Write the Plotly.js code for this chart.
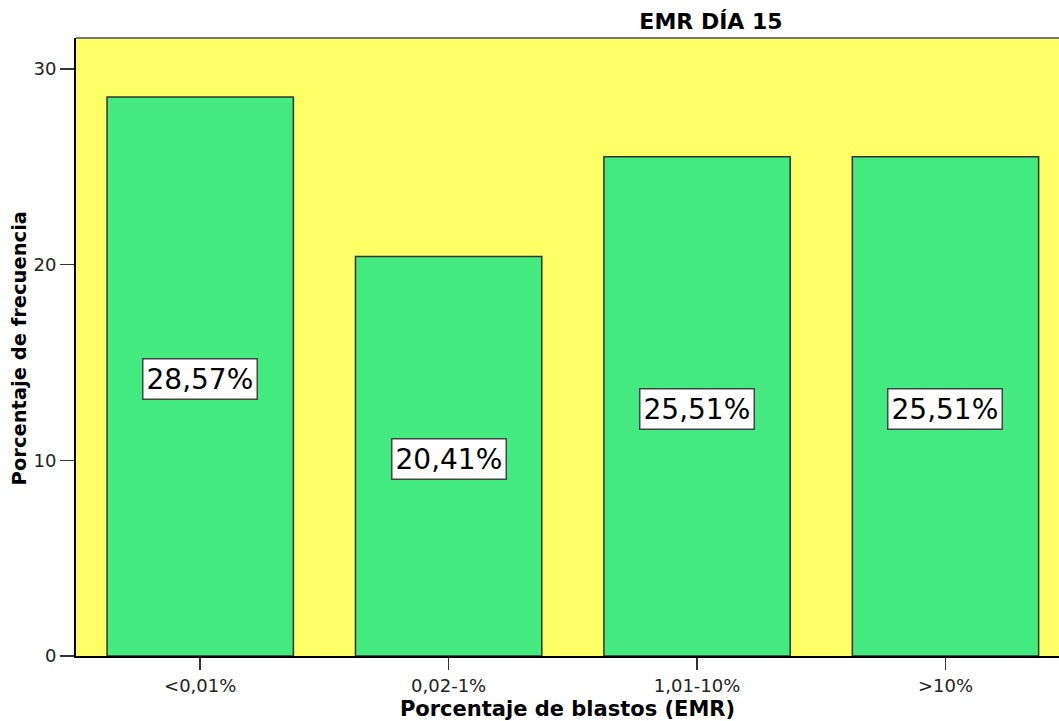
<!DOCTYPE html>
<html>
<head>
<meta charset="utf-8">
<script src="https://cdn.plot.ly/plotly-3.0.1.min.js"></script>
<style>html,body{margin:0;padding:0;background:#fff;}#chart{width:1059px;height:721px;}</style>
</head>
<body>
<div id="chart"></div>
<script>
const categories = ["<0,01%", "0,02-1%", "1,01-10%", ">10%"];
const values = [28.57, 20.41, 25.51, 25.51];
const valueLabels = ["28,57%", "20,41%", "25,51%", "25,51%"];
const yTicks = [0, 10, 20, 30];

const xIdx = categories.map((c, i) => i);

const trace = {
  type: 'bar',
  x: xIdx,
  y: values,
  width: 0.75,
  marker: {color: '#43EA7F', line: {color: '#333333', width: 1.5}},
  hoverinfo: 'none'
};

const annotations = values.map((v, i) => ({
  x: i, y: v / 2, xref: 'x', yref: 'y', yshift: -3,
  text: valueLabels[i], showarrow: false,
  font: {family: 'DejaVu Sans', size: 28, color: '#000'},
  bgcolor: '#ffffff', bordercolor: '#444444', borderwidth: 1.5, borderpad: 3
}));

annotations.push({
  xref: 'paper', yref: 'paper', x: -0.0575, y: 0.4985,
  xanchor: 'center', yanchor: 'middle', textangle: -90,
  text: '<b>Porcentaje de frecuencia</b>', showarrow: false,
  font: {family: 'DejaVu Sans', size: 19.5, color: '#000'}
});

const layout = {
  width: 1059, height: 721,
  margin: {l: 76, r: 0, t: 38, b: 65, pad: 0},
  paper_bgcolor: '#ffffff',
  plot_bgcolor: '#FFFF66',
  showlegend: false,
  title: {
    text: '<b>EMR DÍA 15</b>', x: 711 / 1059, xanchor: 'center', xref: 'container',
    y: 1 - 21 / 721, yanchor: 'middle', yref: 'container',
    font: {family: 'DejaVu Sans', size: 22, color: '#000'}
  },
  xaxis: {
    range: [-0.5, 3.457],
    tickmode: 'array', tickvals: xIdx, ticktext: categories,
    ticks: 'outside', ticklen: 12, tickwidth: 1.5, tickcolor: '#333',
    showline: true, linecolor: '#000', linewidth: 2,
    showgrid: false, zeroline: false,
    tickfont: {family: 'DejaVu Sans', size: 18, color: '#222'},
    title: {text: '<b>Porcentaje de blastos (EMR)</b>', standoff: 8,
            font: {family: 'DejaVu Sans', size: 21, color: '#000'}},
    fixedrange: true
  },
  yaxis: {
    range: [0, 31.58],
    tickmode: 'array', tickvals: yTicks,
    ticks: 'outside', ticklen: 14, tickwidth: 1.5, tickcolor: '#333',
    showline: true, linecolor: '#000', linewidth: 2,
    showgrid: false, zeroline: false,
    tickfont: {family: 'DejaVu Sans', size: 18, color: '#222'},
    fixedrange: true
  },
  shapes: [{
    type: 'line', xref: 'paper', yref: 'paper', x0: 0, x1: 1, y0: 1, y1: 1,
    line: {color: '#777777', width: 2}
  }],
  annotations: annotations
};

Plotly.newPlot('chart', [trace], layout, {displayModeBar: false, staticPlot: true});
</script>
</body>
</html>
